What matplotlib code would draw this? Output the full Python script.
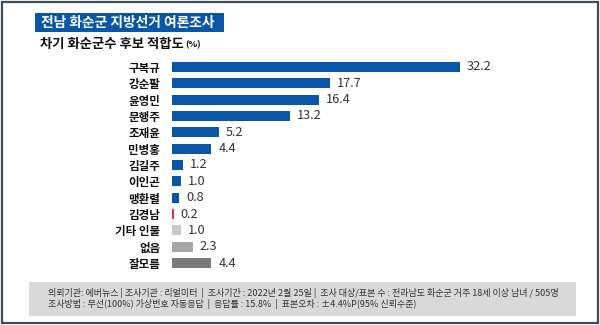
import matplotlib
matplotlib.use("Agg")
import matplotlib.pyplot as plt
from matplotlib.patches import Rectangle

plt.rcParams['font.family'] = ['Noto Sans CJK KR', 'DejaVu Sans']

# data
candidates = ['구복규', '강순팔', '윤영민', '문행주', '조재윤', '민병홍', '김길주',
              '이인곤', '맹환렬', '김경남', '기타 인물', '없음', '잘모름']
support = [32.2, 17.7, 16.4, 13.2, 5.2, 4.4, 1.2, 1.0, 0.8, 0.2, 1.0, 2.3, 4.4]
bar_colors = ['#0a56a6'] * 9 + ['#e8303c', '#c8c8c8', '#a6a6a6', '#7b7b7b']

title = '전남 화순군 지방선거 여론조사'
subtitle = '차기 화순군수 후보 적합도'
footer_1 = ('의뢰기관: 에버뉴스 | 조사기관 : 리얼미터  |  조사기간 : 2022년 2월 25일 |  '
            '조사 대상/표본 수 : 전라남도 화순군 거주 18세 이상 남녀 / 505명')
footer_2 = '조사방법 : 무선(100%) 가상번호 자동응답  |  응답률 : 15.8%  |  표본오차 : ±4.4%P(95% 신뢰수준)'

W, H = 600, 325
fig = plt.figure(figsize=(W / 100, H / 100), dpi=100)


def fx(px):
    return px / W


def fy(py):
    # pixel y from the top -> figure fraction
    return 1 - py / H


# outer frame
fig.patches.append(Rectangle((fx(1.5), fy(323)), fx(596.5), 321.5 / H, transform=fig.transFigure,
                             fill=False, edgecolor='#3e4d59', linewidth=1.6))

# title box and subtitle
fig.patches.append(Rectangle((fx(35), fy(32)), fx(189), 19 / H, transform=fig.transFigure,
                             facecolor='#0a56a6', edgecolor='none'))
fig.text(fx(41), fy(22.5), title, color='white', fontsize=9.9, fontweight='heavy',
         ha='left', va='center')
sub = fig.text(fx(40), fy(44), subtitle, color='#111111', fontsize=9.6, fontweight='heavy',
               ha='left', va='center')
fig.canvas.draw()
bb = sub.get_window_extent()
fig.text(bb.x1 / W + fx(1), fy(45), '(%)', color='#111111', fontsize=6.5, fontweight='bold',
         ha='left', va='center')

# bar chart
left, right = 172, 560
top, bottom = 58.8, 271.2
ax = fig.add_axes([fx(left), fy(bottom), fx(right - left), (bottom - top) / H])
px_per_unit = (460 - 172) / 32.2
ax.set_xlim(0, (right - left) / px_per_unit)
ypos = list(range(len(candidates)))
ax.barh(ypos, support, height=0.62, color=bar_colors)
ax.set_ylim(len(candidates) - 0.5, -0.5)
for y, v in zip(ypos, support):
    ax.text(v + 7 / px_per_unit, y, f'{v:.1f}', va='center', ha='left', fontsize=9.2,
            color='#333333', fontweight='medium')
ax.set_yticks(ypos)
ax.set_yticklabels(candidates, fontsize=8.3, fontweight='heavy', color='#111111')
ax.tick_params(axis='y', length=0, pad=8.5)
ax.set_xticks([])
for s in ax.spines.values():
    s.set_visible(False)
ax.patch.set_alpha(0)

# footer box
fig.patches.append(Rectangle((fx(29), fy(316)), fx(547), 34 / H, transform=fig.transFigure,
                             facecolor='#d9d9d9', edgecolor='none'))
fig.text(fx(48), fy(292.5), footer_1, fontsize=6.5, color='#333333', ha='left', va='center')
fig.text(fx(48), fy(304), footer_2, fontsize=6.5, color='#333333', ha='left', va='center')

fig.savefig('out.png', dpi=100)
